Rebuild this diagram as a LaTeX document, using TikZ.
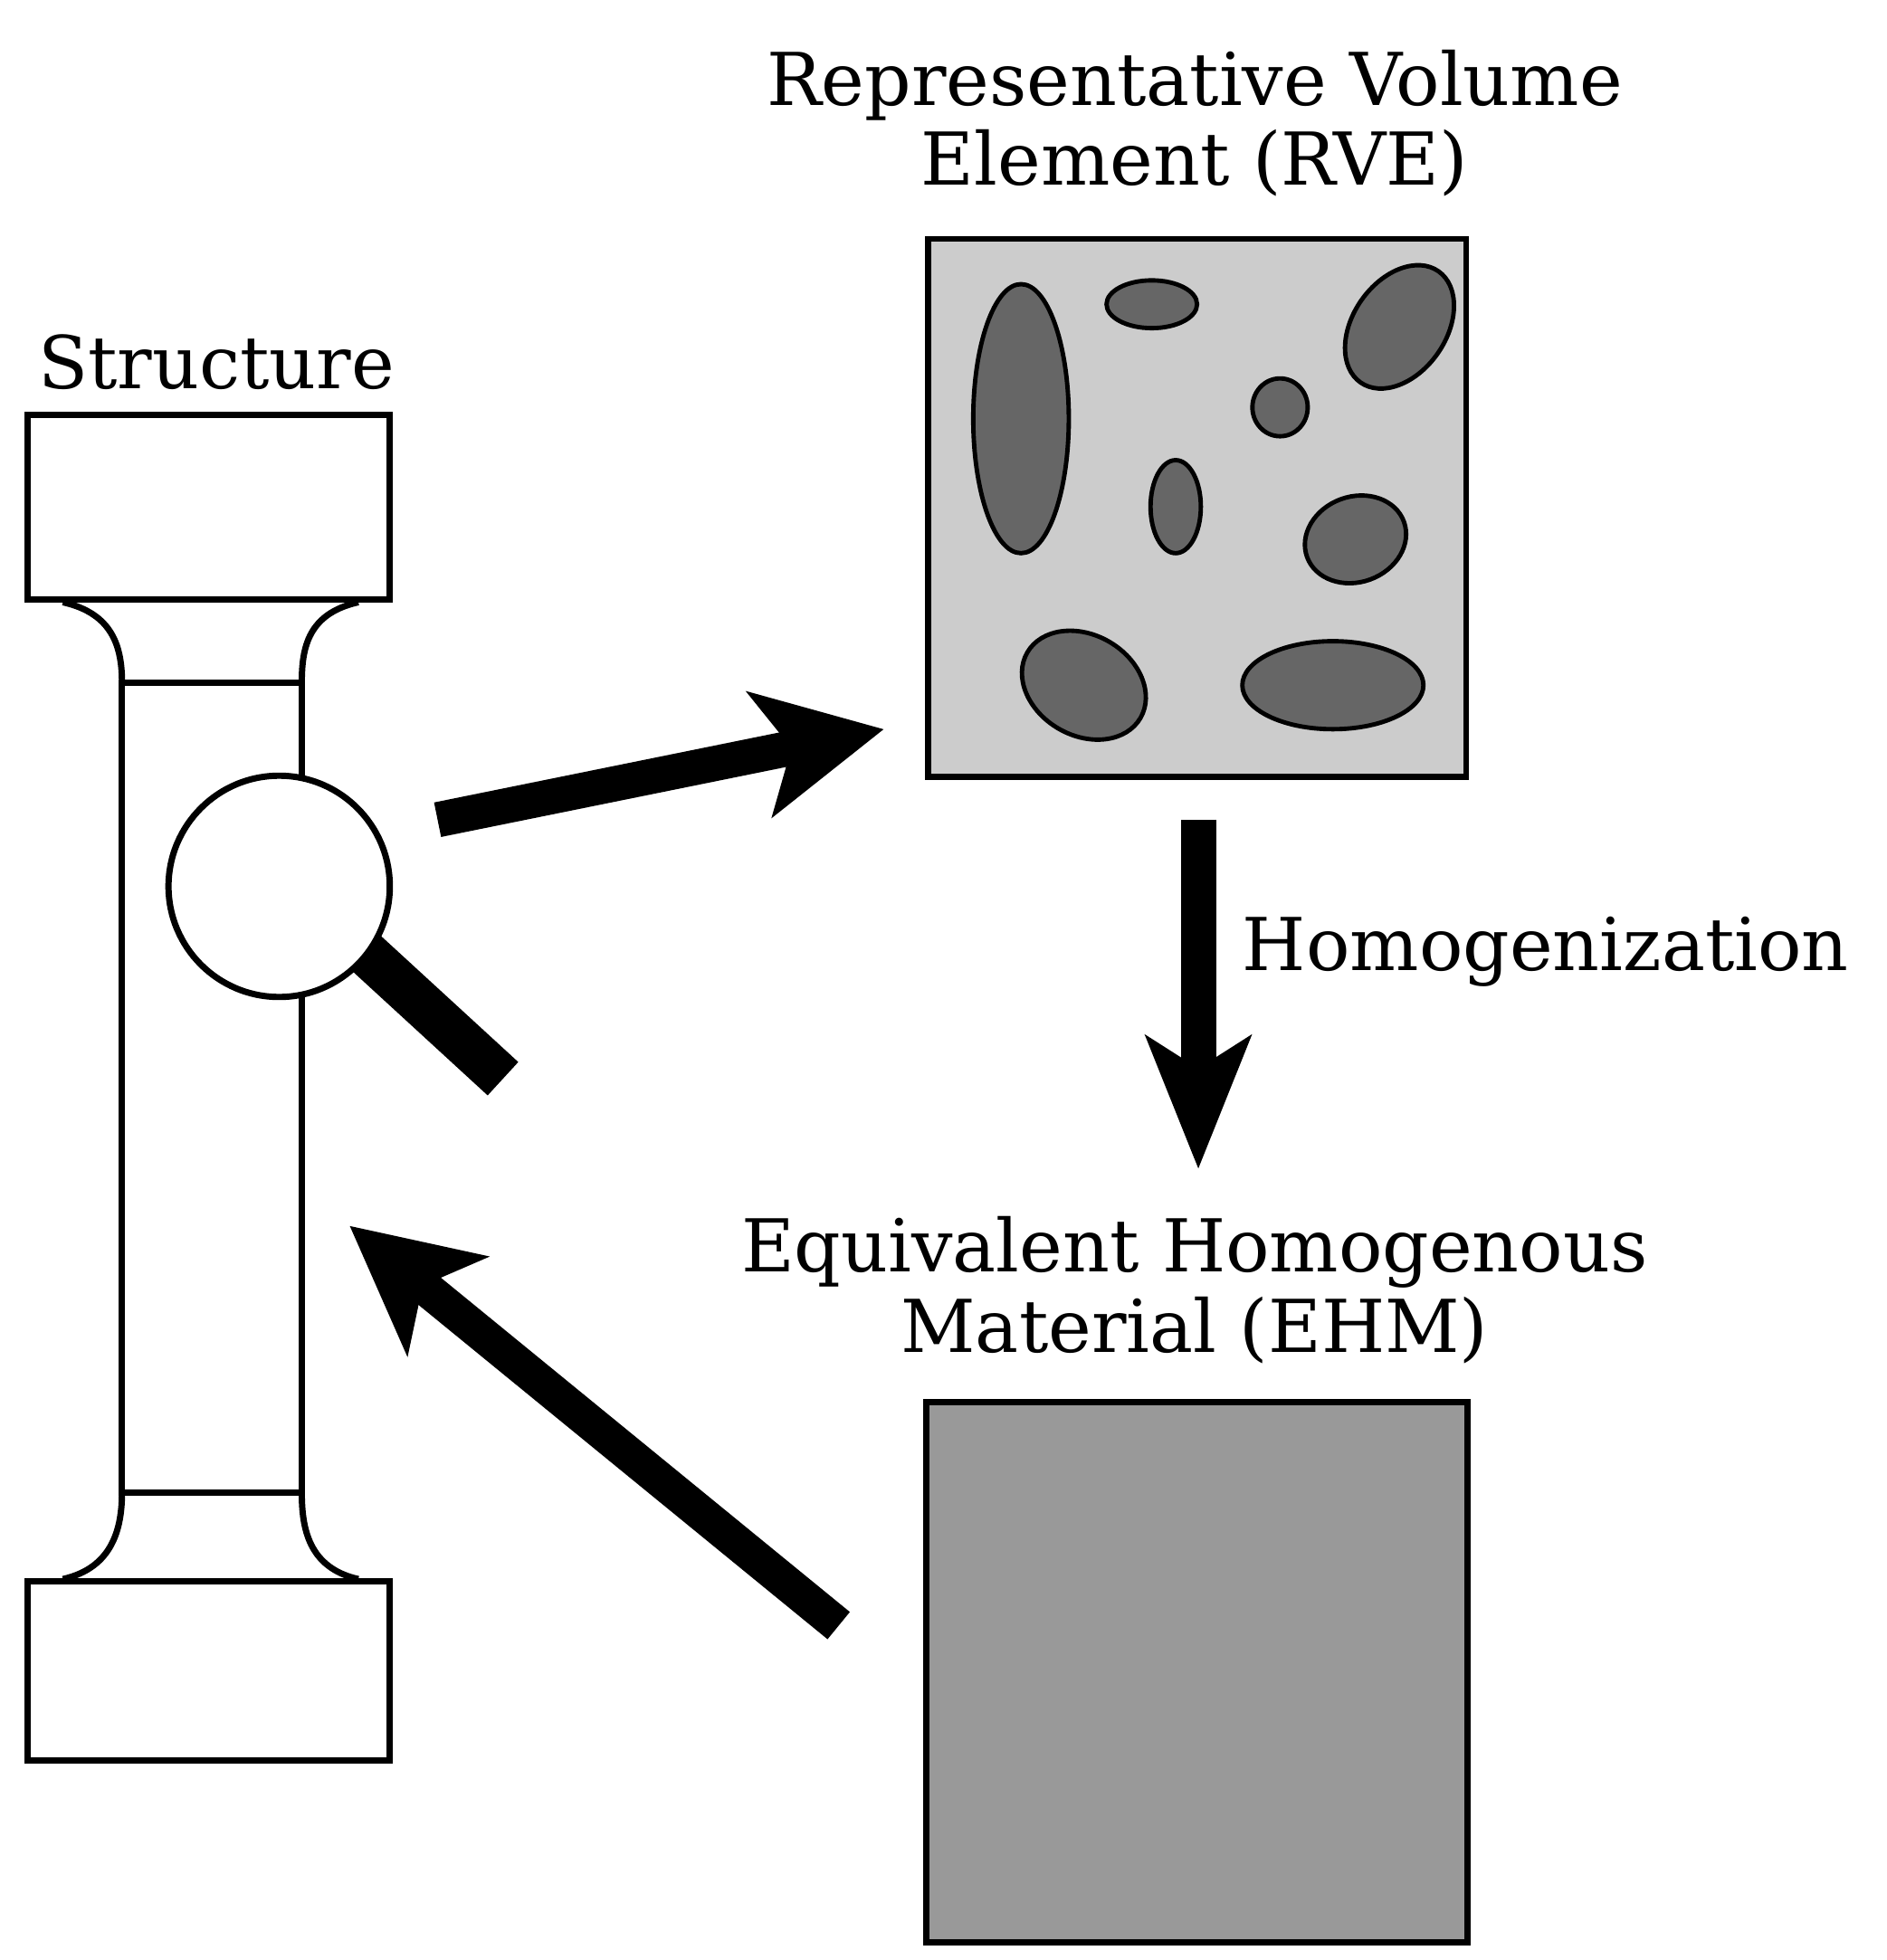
\documentclass[tikz,border=0pt]{standalone}
\usepackage{fontspec}
\setmainfont{DejaVu Serif}
\usetikzlibrary{arrows.meta}
\begin{document}
\begin{tikzpicture}[x=1pt,y=-1pt,
  lw/.style={line width=5pt},
  lbl/.style={font=\fontsize{58}{72}\selectfont, align=center, inner sep=0},
  incl/.style={lw, line width=3.5pt, fill=black!60},
  big/.style={line width=28pt, -{Stealth[length=100pt,width=100pt,inset=25pt]}}]
\useasboundingbox (0,0) rectangle (1500,1559);
% structure
\node[lbl] (st) at (172,288) {Structure};
\draw[lw] (22,330) rectangle (310,477);
\draw[lw] (22,1258) rectangle (310,1400);
\draw[lw] (97,543) rectangle (240,1187);
\draw[lw] (50,479) .. controls (90,488) and (97,515) .. (97,543);
\draw[lw] (285,479) .. controls (245,488) and (240,515) .. (240,543);
\draw[lw] (50,1256) .. controls (90,1247) and (97,1215) .. (97,1187);
\draw[lw] (285,1256) .. controls (245,1247) and (240,1215) .. (240,1187);
\draw[line width=36pt] (290,757) -- (400,858);
\node[circle, draw, lw, fill=white, minimum size=176pt] (mag) at (222,705) {};
% RVE
\node[lbl] (rvel) at (950,98) {Representative Volume\\[-8pt]Element (RVE)};
\node[draw, lw, fill=black!20, minimum size=428pt, inner sep=0] (rve) at (952,404) {};
\begin{scope}
\draw[incl] (812,333) ellipse [x radius=38, y radius=107];
\draw[incl] (916,242) ellipse [x radius=36, y radius=19];
\draw[incl,rotate around={-35:(1113,260)}] (1113,260) ellipse [x radius=37, y radius=54];
\draw[incl] (1018,324) ellipse [x radius=22, y radius=23];
\draw[incl] (935,403) ellipse [x radius=20, y radius=37];
\draw[incl,rotate around={20:(1078,429)}] (1078,429) ellipse [x radius=41, y radius=34];
\draw[incl,rotate around={-30:(862,545)}] (862,545) ellipse [x radius=52, y radius=40];
\draw[incl] (1060,545) ellipse [x radius=72, y radius=35];
\end{scope}
% EHM
\node[lbl] (ehml) at (950,1026) {Equivalent Homogenous\\[-8pt]Material (EHM)};
\node[draw, lw, fill=black!40, minimum size=430pt, inner sep=0] (ehm) at (952,1330) {};
\node[lbl, anchor=west] (hom) at (988,757) {Homogenization};
% arrows
\coordinate (a1s) at (348,652);
\coordinate (a1e) at (703,580);
\draw[big] (a1s) -- (a1e);
\coordinate (a2s) at (953,652);
\coordinate (a2e) at (953,930);
\draw[big,-{Stealth[length=105pt,width=82pt,inset=25pt]}] (a2s) -- (a2e);
\coordinate (a3s) at (667,1293);
\coordinate (a3e) at (278,975);
\draw[big] (a3s) -- (a3e);
\end{tikzpicture}
\end{document}
